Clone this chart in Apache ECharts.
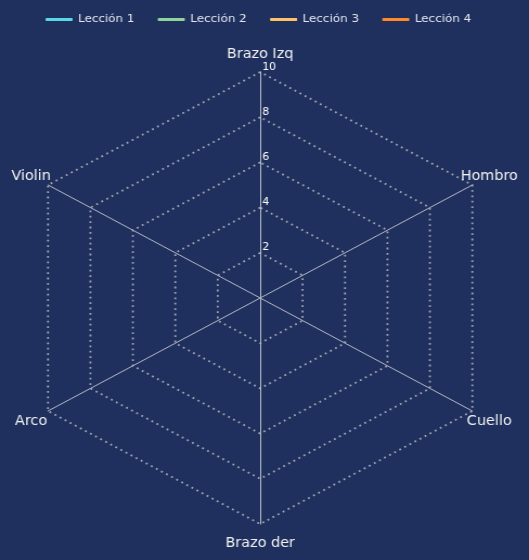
<!DOCTYPE html>
<html>
<head>
<meta charset="utf-8">
<script src="https://cdn.jsdelivr.net/npm/echarts@6/dist/echarts.min.js"></script>
<style>
  html, body { margin: 0; padding: 0; background: #1f305f; overflow: hidden; }
  #wrap { width: 529px; height: 560px; overflow: hidden; }
  /* the reference radar is wider than it is tall, so draw narrower and stretch */
  #main { width: 488px; height: 560px; transform: scaleX(1.084); transform-origin: 0 0; }
</style>
</head>
<body>
<div id="wrap"><div id="main"></div></div>
<script>
// ejes, en el orden en que echarts los reparte (antihorario desde arriba)
var indicatorNames = ['Brazo Izq', 'Violin', 'Arco', 'Brazo der', 'Cuello', 'Hombro'];
var indicatorMax = 10;
var seriesNames = ['Lección 1', 'Lección 2', 'Lección 3', 'Lección 4'];
var seriesColors = ['#5ad8e6', '#8fd49a', '#ffc266', '#ff8a26'];
// no se ve ningún valor dibujado en la referencia
var leccion1 = [];
var leccion2 = [];
var leccion3 = [];
var leccion4 = [];

var chart = echarts.init(document.getElementById('main'));
var values = [leccion1, leccion2, leccion3, leccion4];

var indicators = indicatorNames.map(function (n, i) {
    var it = { name: n, max: indicatorMax };
    if (i === 0) it.axisLabel = { show: true };
    return it;
});

var nameFont = { color: '#f2f2f2', fontSize: 13.3, fontFamily: 'DejaVu Sans' };

var option = {
    backgroundColor: '#1f305f',
    color: seriesColors,
    legend: {
        data: seriesNames,
        left: 37,
        top: 9,
        icon: 'roundRect',
        itemWidth: 25,
        itemHeight: 3,
        itemGap: 21.5,
        textStyle: { color: '#e3e6ee', fontSize: 11, fontFamily: 'DejaVu Sans' }
    },
    radar: {
        center: [240, 298],
        radius: 226,
        startAngle: 90,
        splitNumber: 5,
        shape: 'polygon',
        indicator: indicators,
        axisName: {
            color: nameFont.color, fontSize: nameFont.fontSize, fontFamily: nameFont.fontFamily,
            align: 'center', verticalAlign: 'middle', padding: [2, 0, 0, 0],
            formatter: function (name) {
                var i = indicatorNames.indexOf(name);
                // los nombres de abajo van un poco más bajos
                return (i >= 2 && i <= 4) ? '{low|' + name + '}' : '{up|' + name + '}';
            },
            rich: {
                up: { color: nameFont.color, fontSize: nameFont.fontSize, fontFamily: nameFont.fontFamily },
                low: { color: nameFont.color, fontSize: nameFont.fontSize, fontFamily: nameFont.fontFamily, padding: [1, 0, 0, 0] }
            }
        },
        nameGap: 18,
        axisLine: { lineStyle: { color: '#b5b8c4', width: 1 } },
        splitLine: { lineStyle: { color: '#a0a2ac', width: 1.8, type: [1.8, 3.6] } },
        splitArea: { show: false },
        axisLabel: {
            show: false, color: '#ffffff', fontSize: 10, fontFamily: 'DejaVu Sans',
            showMinLabel: false, align: 'left', verticalAlign: 'bottom', margin: -2
        }
    },
    series: [{
        type: 'radar',
        symbol: 'none',
        data: seriesNames.map(function (n, i) {
            return { name: n, value: values[i], lineStyle: { color: seriesColors[i], width: 2 } };
        })
    }]
};
chart.setOption(option);
</script>
</body>
</html>
